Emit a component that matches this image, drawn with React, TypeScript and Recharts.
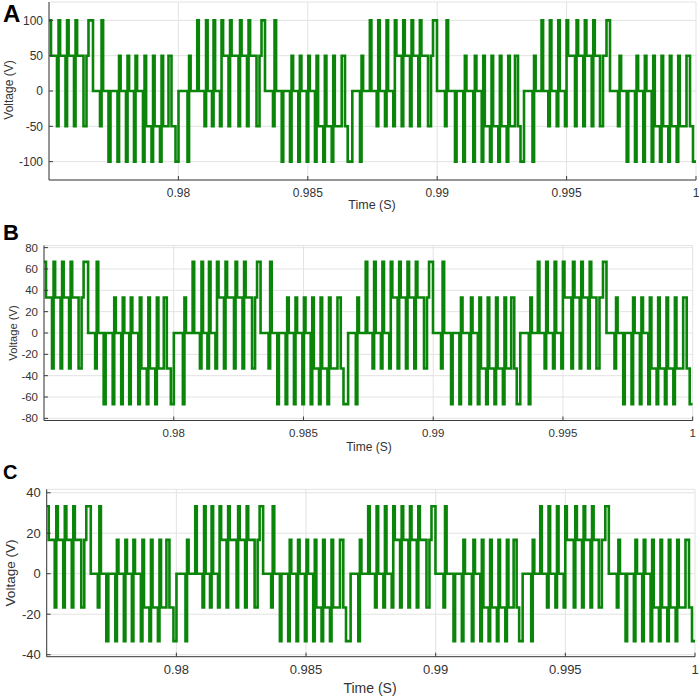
import React from 'react';
import { LineChart, Line, XAxis, YAxis, CartesianGrid } from 'recharts';

// Time in ms (0.975 s .. 1 s). Level index: -2..2
// [t, level] = step to level; [t, lo, hi, base] = narrow pulse lo -> hi -> base
const EVENTS: number[][] = [
  [975.000, 2], [975.077, 1],
  [975.309, -1, 2, 1], [975.638, -1, 2, 1], [975.966, -1, 2, 1],
  [976.333, -1], [976.449, 1], [976.526, 2], [976.700, 0],
  [976.971, -1, 2, 0],
  [977.299, -2], [977.376, 0],
  [977.647, -2, 1, 0], [977.975, -2, 1, 0], [978.284, -2, 1, 0], [978.632, -2, 1, -1], [978.961, -2, 1, -1], [979.289, -2, 1, -1],
  [979.617, 1], [979.733, -1], [979.888, -2], [980.004, 0],
  [980.352, -2, 1, 0],
  [980.668, 0, 2, 0], [981.009, -1, 2, 0], [981.298, -1, 2, 0], [981.607, -1, 2, 1], [981.936, -1, 2, 1], [982.322, -1, 2, 1], [982.651, -1, 2, 1],
  [983.018, -1], [983.134, 1], [983.211, 2], [983.346, 0],
  [983.655, -1, 2, 0],
  [983.992, -2, 0, 0], [984.312, -2, 1, 0], [984.633, -2, 1, 0], [984.958, -2, 1, 0], [985.278, -2, 1, -1], [985.599, -2, 1, -1], [985.924, -2, 1, -1],
  [986.310, 1], [986.437, -1], [986.542, -2], [986.720, 0],
  [987.017, -2, 1, 0],
  [987.338, 0, 2, 0], [987.662, -1, 2, 0], [987.983, -1, 2, 0], [988.304, -1, 2, 1], [988.628, -1, 2, 1], [988.949, -1, 2, 1], [989.270, -1, 2, 1],
  [989.645, -1], [989.760, 1], [989.838, 2], [989.992, 0],
  [990.301, -1, 2, 0],
  [990.688, -2, 0, 0], [991.009, -2, 1, 0], [991.395, -2, 1, 0], [991.720, -2, 1, -1], [992.040, -2, 1, -1], [992.361, -2, 1, -1], [992.686, -2, 1, -1],
  [993.006, 1], [993.122, -1], [993.219, -2], [993.354, 0],
  [993.683, -2, 1, 0],
  [993.972, 0, 2, 0], [994.293, -1, 2, 0], [994.618, -1, 2, 0], [994.938, -1, 2, 1], [995.325, -1, 2, 1], [995.645, -1, 2, 1], [995.970, -1, 2, 1],
  [996.291, -1], [996.407, 1], [996.542, 2], [996.677, 0],
  [996.986, -1, 1, 0],
  [997.322, -2, 0, 0], [997.643, -2, 1, 0], [997.964, -2, 1, 0], [998.288, -2, 1, -1], [998.609, -2, 1, -1], [998.930, -2, 1, -1], [999.254, -2, 1, -1],
  [999.633, 1], [999.768, -1], [999.884, -2], [1000, -2],
];
const PULSE_MS = 0.06;

const LEVELS_A = [-100, -50, 0, 50, 100];
const LEVELS_B = [-66.7, -33.3, 0, 33.3, 66.7];
const LEVELS_C = [-33.3, -16.7, 0, 16.7, 33.3];

const X_TICKS = [980, 985, 990, 995, 1000];
const X_LABELS = ['0.98', '0.985', '0.99', '0.995', '1'];
const Y_TICKS_A = [-100, -50, 0, 50, 100];
const Y_TICKS_B = [-80, -60, -40, -20, 0, 20, 40, 60, 80];
const Y_TICKS_C = [-40, -20, 0, 20, 40];

function build(levels: number[]) {
  const L = (i: number) => levels[i + 2];
  const pts: { t: number; v: number }[] = [];
  for (const e of EVENTS) {
    if (e.length === 2) pts.push({ t: e[0], v: L(e[1]) });
    else {
      pts.push({ t: e[0], v: L(e[1]) });
      pts.push({ t: e[0] + PULSE_MS, v: L(e[2]) });
      pts.push({ t: e[0] + 2 * PULSE_MS, v: L(e[3]) });
    }
  }
  return pts;
}

const FONT = 'Liberation Sans, Arial, sans-serif';
const TXT = '#333333';
const AXIS = '#3a3a3a';

type PanelProps = {
  top: number; height: number; data: { t: number; v: number }[];
  yDomain: [number, number]; yTicks: number[];
  mTop: number; mRight: number; yWidth: number; xHeight: number; fontSize: number;
};

function Panel(p: PanelProps) {
  const fmtX = (v: number) => X_LABELS[X_TICKS.indexOf(v)] ?? '';
  return (
    <div style={{ position: 'absolute', left: 0, top: p.top }}>
      <LineChart width={699} height={p.height} data={p.data}
        margin={{ top: p.mTop, right: p.mRight, left: 0, bottom: 0 }}>
        <CartesianGrid stroke="#e3e3e3" strokeWidth={1} />
        <XAxis dataKey="t" type="number" domain={[975, 1000]} ticks={X_TICKS} allowDataOverflow
          tickFormatter={fmtX} height={p.xHeight} interval={0}
          tickSize={-4} tickMargin={12} tickLine={{ stroke: AXIS }}
          axisLine={{ stroke: AXIS }} tick={{ fontSize: p.fontSize, fill: TXT, fontFamily: FONT }} />
        <XAxis xAxisId="top" orientation="top" type="number" domain={[975, 1000]} ticks={X_TICKS}
          height={0} tick={false} tickSize={-4} tickLine={{ stroke: AXIS }} axisLine={{ stroke: AXIS }} />
        <YAxis type="number" domain={p.yDomain} ticks={p.yTicks} width={p.yWidth} allowDataOverflow interval={0}
          tickSize={-4} tickMargin={10} tickLine={{ stroke: AXIS }}
          axisLine={{ stroke: AXIS }} tick={{ fontSize: p.fontSize, fill: TXT, fontFamily: FONT }} />
        <YAxis yAxisId="r" orientation="right" type="number" domain={p.yDomain} ticks={p.yTicks} width={0}
          tick={false} tickSize={-4} tickLine={{ stroke: AXIS }} axisLine={{ stroke: AXIS }} />
        <Line type="stepAfter" dataKey="v" stroke="#0a850a" strokeWidth={2.6} dot={false}
          isAnimationActive={false} />
      </LineChart>
    </div>
  );
}

export default function App() {
  const dA = build(LEVELS_A);
  const dB = build(LEVELS_B);
  const dC = build(LEVELS_C);
  return (
    <div style={{ position: 'absolute', left: 0, top: 0, width: 699, height: 698, background: '#fff', fontFamily: FONT }}>
      <Panel top={0} height={215} data={dA} yDomain={[-126, 126]} yTicks={Y_TICKS_A}
        mTop={2} mRight={3} yWidth={49} xHeight={35} fontSize={12} />
      <Panel top={240} height={215} data={dB} yDomain={[-82, 82]} yTicks={Y_TICKS_B}
        mTop={5.5} mRight={6.3} yWidth={44} xHeight={34.5} fontSize={11.5} />
      <Panel top={485} height={213} data={dC} yDomain={[-41, 41.7]} yTicks={Y_TICKS_C}
        mTop={4.3} mRight={4} yWidth={46.7} xHeight={41.3} fontSize={13} />
      <svg width={699} height={698} style={{ position: 'absolute', left: 0, top: 0, pointerEvents: 'none' }}>
        <g fontFamily={FONT} fill="#000">
          <text x={3} y={22} fontSize={24} fontWeight="bold">A</text>
          <text x={3} y={240} fontSize={22} fontWeight="bold">B</text>
          <text x={3} y={479} fontSize={20} fontWeight="bold">C</text>
        </g>
        <g fontFamily={FONT} fill={TXT} textAnchor="middle">
          <text transform="translate(9,90) rotate(-90)" fontSize={12} dominantBaseline="central">Voltage (V)</text>
          <text transform="translate(13,333) rotate(-90)" fontSize={11.2} dominantBaseline="central">Voltage (V)</text>
          <text transform="translate(10,573) rotate(-90)" fontSize={13.5} dominantBaseline="central">Voltage (V)</text>
          <text x={372} y={209} fontSize={12.5}>Time (S)</text>
          <text x={369} y={451} fontSize={12}>Time (S)</text>
          <text x={370} y={693} fontSize={14}>Time (S)</text>
        </g>
      </svg>
    </div>
  );
}
